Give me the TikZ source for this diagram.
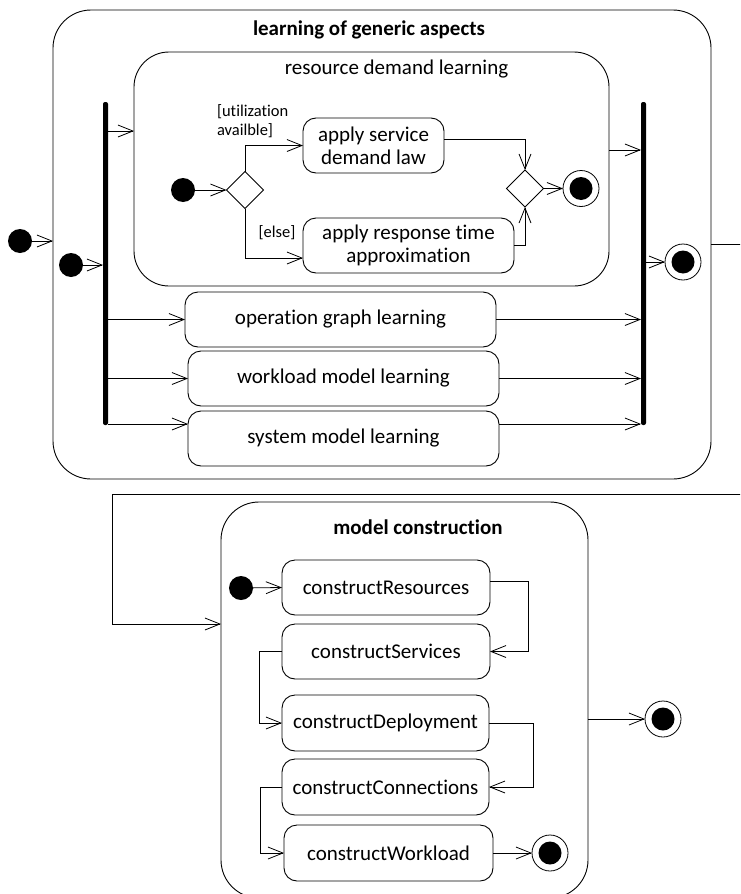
\documentclass[tikz,border=0pt]{standalone}
\usepackage{fontspec}
\setmainfont{Carlito}[Ligatures=NoCommon]
\usetikzlibrary{arrows.meta,shapes.geometric,calc}

\begin{document}
\begin{tikzpicture}[x=1pt,y=-1pt,
  every node/.style={inner sep=0pt, outer sep=0pt},
  arr/.style={draw, line width=0.8pt, -{Straight Barb[length=15pt,width=12pt]}},
  container/.style={draw, line width=0.9pt, rounded corners=38pt},
  action/.style={draw, line width=0.9pt, rounded corners=13pt, font=\fontsize{21}{23}\selectfont, align=center},
  syncbar/.style={fill=black, rounded corners=2pt, minimum width=5pt},
  startnode/.style={circle, fill=black, minimum size=24pt},
  endnode/.style={circle, draw, line width=0.8pt, minimum size=36pt,
    path picture={\fill (path picture bounding box.center) circle (11.5pt);}},
  choice/.style={diamond, draw, line width=0.8pt, minimum width=37pt, minimum height=37pt},
  boxtitle/.style={font=\bfseries\fontsize{21}{23}\selectfont},
  guard/.style={font=\fontsize{16.5}{19}\selectfont, align=left},
]
\path[use as bounding box] (0,0) rectangle (740,894);
\clip (0,0) rectangle (740,894);

% ---------- learning of generic aspects ----------
\node[container, minimum width=658pt, minimum height=469pt] (outer) at (382,244.5) {};
\node[boxtitle] (outerT) at (369,30) {learning of generic aspects};

\node[container, rounded corners=35pt, minimum width=475pt, minimum height=234pt] (rdl) at (371.5,169) {};
\node[font=\fontsize{21}{23}\selectfont] (rdlT) at (396.5,69) {resource demand learning};

\node[syncbar, minimum height=323pt] (fork) at (105.5,263.5) {};
\node[syncbar, minimum height=323pt] (join) at (643.5,263.5) {};

\node[startnode] (s1) at (20,241) {};
\node[startnode] (s2) at (71,265) {};
\node[startnode] (s3) at (183,190) {};

\node[choice] (d1) at (245,190) {};
\node[choice] (d2) at (525,188.5) {};

\node[action, minimum width=141pt, minimum height=55pt] (asd) at (373.5,145.5) {apply service\\demand law};
\node[action, minimum width=211pt, minimum height=55pt] (art) at (408.5,245.5) {apply response time\\approximation};
\node[action, minimum width=311pt, minimum height=55pt] (ogl) at (340.5,319.5) {operation graph learning};
\node[action, minimum width=311pt, minimum height=55pt] (wml) at (343.5,378.5) {workload model learning};
\node[action, minimum width=311pt, minimum height=55pt] (sml) at (343.5,438.5) {system model learning};

\node[guard, anchor=west] (g1) at (217,121) {[utilization\\availble]};
\node[guard] (g2) at (277,233) {[else]};

\node[endnode] (f1) at (581,188.5) {};
\node[endnode] (f2) at (683,262) {};

\draw[arr] (s1) -- (s1 -| outer.west);
\draw[arr] (s2) -- (s2 -| fork.west);
\draw[arr] (fork.east |- 0,131) -- (rdl.west |- 0,131);
\draw[arr] (fork.east |- ogl.west) -- (ogl.west);
\draw[arr] (fork.east |- wml.west) -- (wml.west);
\draw[arr] (fork.east |- 0,424) -- (sml.west |- 0,424);

\draw[arr] (s3) -- (d1.west);
\draw[arr] (d1.north) |- (asd.west);
\draw[arr] (d1.south) |- ([yshift=-12.5pt]art.west);
\draw[arr] ([yshift=6.5pt]asd.east) -| (d2.north);
\draw[arr] (art.east) -| (d2.south);
\draw[arr] (d2.east) -- (f1);

\draw[arr] (rdl.east |- 0,150) -- (join.west |- 0,150);
\draw[arr] (ogl.east) -- (ogl.east -| join.west);
\draw[arr] (wml.east) -- (wml.east -| join.west);
\draw[arr] (sml.east |- 0,424) -- (join.west |- 0,424);
\draw[arr] (join.east |- f2) -- (f2);

% ---------- model construction ----------
\node[container, minimum width=367pt, minimum height=396pt] (mc) at (404.5,700) {};
\node[boxtitle] (mcT) at (418,527) {model construction};

\node[startnode] (s4) at (241,588) {};
\node[action, minimum width=208pt, minimum height=55pt] (cR) at (386,587.5) {constructResources};
\node[action, minimum width=208pt, minimum height=55pt] (cS) at (386,651.5) {constructServices};
\node[action, minimum width=207pt, minimum height=56pt] (cD) at (385.5,723) {constructDeployment};
\node[action, minimum width=207pt, minimum height=56pt] (cC) at (385.5,787) {constructConnections};
\node[action, minimum width=209pt, minimum height=56pt] (cW) at (388.5,853) {constructWorkload};
\node[endnode] (f3) at (550,853) {};
\node[endnode] (f4) at (663,719) {};

\draw[arr] (outer.east |- 0,244) -- (760,244) |- (112,494) |- (mc.west |- 0,624);

\draw[arr] (s4) -- (cR.west);
\draw[arr] ([yshift=6.5pt]cR.east) -- ++(38,0) |- (cS.east);
\draw[arr] (cS.west) -- ++(-23,0) |- (cD.west);
\draw[arr] (cD.east) -- ++(44,0) |- (cC.east);
\draw[arr] (cC.west) -- ++(-22,0) |- (cW.west);
\draw[arr] (cW.east) -- (f3);
\draw[arr] (mc.east |- f4) -- (f4);
\end{tikzpicture}
\end{document}
